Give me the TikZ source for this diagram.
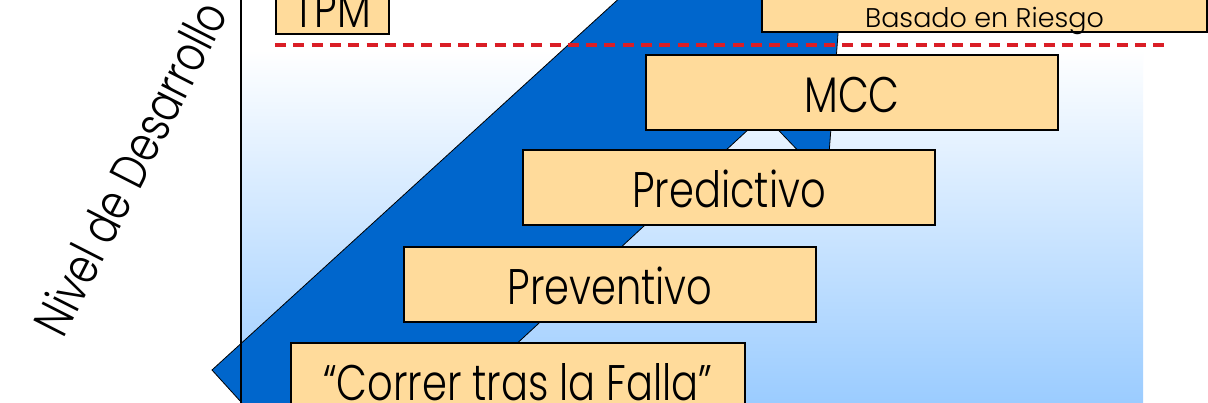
\documentclass[tikz,border=0pt]{standalone}
\usepackage{fontspec}
\setmainfont{Poppins}
\IfFontExistsTF{Poppins Light}{%
  \newfontfamily\boxfnt{Poppins Light}[FakeStretch=0.8]%
  \newfontfamily\smallfnt{Poppins Light}%
}{%
  \newfontfamily\boxfnt{Poppins}[FakeStretch=0.8]%
  \newfontfamily\smallfnt{Poppins}%
}
\definecolor{arrowblue}{RGB}{0,102,204}
\definecolor{boxfill}{RGB}{255,219,155}
\definecolor{bgblue}{RGB}{155,204,255}
\definecolor{dashred}{RGB}{218,30,38}
\tikzset{
  box/.style={draw=black,line width=1.6pt,fill=boxfill,inner sep=0pt,
    font=\boxfnt\fontsize{50}{52}\selectfont,text height=39pt,text depth=0pt},
  arrowshape/.style={fill=arrowblue,draw=black,line width=0.8pt,line join=miter},
  axisline/.style={draw=black,line width=1.6pt},
  dashline/.style={draw=dashred,line width=4pt,dash pattern=on 11pt off 7.3pt},
  axislabel/.style={font=\boxfnt\fontsize{50}{52}\selectfont,inner sep=0pt}
}
\begin{document}
\begin{tikzpicture}[x=1pt,y=-1pt]
\useasboundingbox (0,0) rectangle (1208,402);
\clip (0,0) rectangle (1208,402);
\fill[white] (0,0) rectangle (1208,402);
\shade[top color=white,bottom color=bgblue] (241,50) rectangle (1143,402);
% big blue arrow
\draw[arrowshape] (212,370) -- (338,509) -- (764,115) -- (827,181) -- (848,-100) -- (727,-100) -- cycle;
% axis
\coordinate (axtop) at (241,-5);
\coordinate (axbot) at (241,410);
\draw[axisline] (axtop) -- (axbot);
% boxes
\node[box,minimum width=113pt,minimum height=53pt] (tpm) at (332.5,7.5) {TPM};
\node[box,minimum width=445pt,minimum height=92pt,text height=82pt,
  font=\smallfnt\fontsize{27}{29}\selectfont] (riesgo) at (984.5,-14) {Basado en Riesgo};
\node[box,minimum width=412pt,minimum height=75pt] (mcc) at (852,92.5) {MCC};
\node[box,minimum width=412pt,minimum height=75pt] (pred) at (729,187.5) {Predictivo};
\node[box,minimum width=412pt,minimum height=75pt] (prev) at (610,284.5) {Preventivo};
\node[box,minimum width=454pt,minimum height=75pt] (falla) at (518,380.5) {“Correr tras la Falla”};
% dashed line
\coordinate (dl) at (275,45);
\coordinate (dr) at (1168,45);
\draw[dashline] (dl) -- (dr);
% axis label
\node[axislabel,rotate=63] (ylab) at (130,168) {Nivel de Desarrollo};
\end{tikzpicture}
\end{document}
